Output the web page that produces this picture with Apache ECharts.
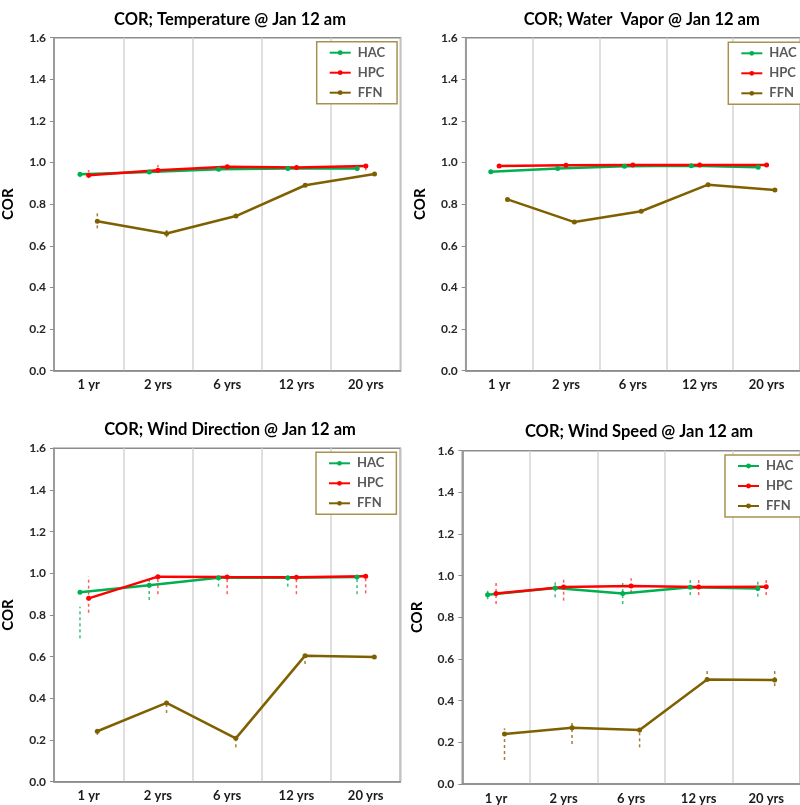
<!DOCTYPE html>
<html>
<head>
<meta charset="utf-8">
<title>COR @ Jan 12 am</title>
<script src="https://cdn.jsdelivr.net/npm/echarts@6/dist/echarts.min.js"></script>
<style>
html, body { margin: 0; padding: 0; background: #fff; }
#main { width: 800px; height: 805px; }
</style>
</head>
<body>
<div id="main"></div>
<script>
// 横轴分类
var categories = ['1 yr', '2 yrs', '6 yrs', '12 yrs', '20 yrs'];
var seriesNames = ['HAC', 'HPC', 'FFN'];
var panelTitles = [
	'COR; Temperature @ Jan 12 am',
	'COR; Water  Vapor @ Jan 12 am',
	'COR; Wind Direction @ Jan 12 am',
	'COR; Wind Speed @ Jan 12 am'
];

// Temperature
var tempHAC = [0.944, 0.955, 0.968, 0.972, 0.972];
var tempHPC = [0.939, 0.963, 0.980, 0.976, 0.984];
var tempFFN = [0.718, 0.659, 0.743, 0.891, 0.945];
var tempHACLow = [0.930, 0.948, 0.962, 0.965, 0.965];
var tempHACHigh = [0.958, 0.962, 0.974, 0.979, 0.979];
var tempHPCLow = [0.925, 0.949, 0.970, 0.968, 0.963];
var tempHPCHigh = [0.964, 0.988, 0.988, 0.984, 0.990];
var tempFFNLow = [0.684, 0.641, 0.735, 0.883, 0.937];
var tempFFNHigh = [0.764, 0.676, 0.752, 0.898, 0.950];

// Water Vapor
var vapHAC = [0.956, 0.972, 0.982, 0.985, 0.977];
var vapHPC = [0.983, 0.987, 0.988, 0.988, 0.988];
var vapFFN = [0.823, 0.714, 0.766, 0.894, 0.868];
var vapHACLow = [0.948, 0.965, 0.975, 0.978, 0.970];
var vapHACHigh = [0.975, 0.982, 0.990, 0.990, 0.985];
var vapHPCLow = [0.978, 0.982, 0.983, 0.983, 0.983];
var vapHPCHigh = [0.988, 0.992, 0.993, 0.993, 0.993];
var vapFFNLow = [0.812, 0.706, 0.760, 0.888, 0.862];
var vapFFNHigh = [0.839, 0.722, 0.772, 0.900, 0.874];

// Wind Direction
var dirHAC = [0.909, 0.943, 0.979, 0.979, 0.982];
var dirHPC = [0.880, 0.984, 0.982, 0.981, 0.986];
var dirFFN = [0.242, 0.378, 0.208, 0.605, 0.598];
var dirHACLow = [0.688, 0.872, 0.936, 0.936, 0.900];
var dirHACHigh = [0.840, 0.975, 0.990, 0.990, 0.990];
var dirHPCLow = [0.811, 0.900, 0.900, 0.900, 0.904];
var dirHPCHigh = [0.985, 0.982, 0.982, 0.984, 0.990];
var dirFFNLow = [0.225, 0.330, 0.165, 0.565, 0.590];
var dirFFNHigh = [0.250, 0.380, 0.210, 0.610, 0.605];

// Wind Speed
var spdHAC = [0.909, 0.941, 0.915, 0.944, 0.939];
var spdHPC = [0.914, 0.946, 0.951, 0.946, 0.947];
var spdFFN = [0.240, 0.270, 0.259, 0.502, 0.499];
var spdHACLow = [0.887, 0.896, 0.864, 0.907, 0.899];
var spdHACHigh = [0.928, 0.979, 0.966, 0.988, 0.975];
var spdHPCLow = [0.864, 0.880, 0.918, 0.907, 0.907];
var spdHPCHigh = [0.979, 0.983, 0.988, 0.988, 0.992];
var spdFFNLow = [0.115, 0.192, 0.176, 0.499, 0.470];
var spdFFNHigh = [0.267, 0.302, 0.259, 0.544, 0.555];

var panels = [
	{ values: [tempHAC, tempHPC, tempFFN], lows: [tempHACLow, tempHPCLow, tempFFNLow], highs: [tempHACHigh, tempHPCHigh, tempFFNHigh] },
	{ values: [vapHAC, vapHPC, vapFFN], lows: [vapHACLow, vapHPCLow, vapFFNLow], highs: [vapHACHigh, vapHPCHigh, vapFFNHigh] },
	{ values: [dirHAC, dirHPC, dirFFN], lows: [dirHACLow, dirHPCLow, dirFFNLow], highs: [dirHACHigh, dirHPCHigh, dirFFNHigh] },
	{ values: [spdHAC, spdHPC, spdFFN], lows: [spdHACLow, spdHPCLow, spdFFNLow], highs: [spdHACHigh, spdHPCHigh, spdFFNHigh] }
];

var FONT = 'Lato';
var lineColors = ['#00B050', '#FF0000', '#7F6000'];
var errColors = ['#3cc07a', '#ff5c5c', '#9c8232'];
// 每组内的横向错位 (单位: 一个分类宽度)
var dodge = [-0.125, 0, 0.125];

var gridPos = [
	{ left: 54, top: 37.7, width: 346.5, height: 333 },
	{ left: 465.7, top: 37.7, width: 346.5, height: 333 },
	{ left: 53.3, top: 448.3, width: 347, height: 333.4 },
	{ left: 462.3, top: 450.7, width: 346.5, height: 333.3 }
];
var titlePos = [[230, 11], [641.7, 11], [230, 421], [639, 423]];
var legendPos = [[316.7, 41.7], [728.3, 42.3], [316, 452.3], [725, 455]];

var option = {
	backgroundColor: '#fff',
	animation: false,
	title: [],
	legend: [],
	grid: [],
	xAxis: [],
	yAxis: [],
	series: []
};

panels.forEach(function(p, i) {
	option.title.push({
		text: panelTitles[i],
		left: titlePos[i][0],
		top: titlePos[i][1],
		textAlign: 'center',
		padding: 0,
		textStyle: { fontFamily: FONT, fontWeight: 'bold', fontSize: 16.5, color: '#000' }
	});
	option.legend.push({
		data: seriesNames,
		orient: 'vertical',
		left: legendPos[i][0],
		top: legendPos[i][1],
		padding: [4, 12, 4, 12],
		itemGap: 6,
		itemWidth: 21,
		itemHeight: 6,
		borderColor: '#a8924f',
		borderWidth: 1.5,
		backgroundColor: '#fff',
		selectedMode: false,
		textStyle: { fontFamily: FONT, fontWeight: 'bold', fontSize: 13, lineHeight: 14, color: '#595959', padding: [0, 0, 0, 2] }
	});
	option.grid.push({
		left: gridPos[i].left,
		top: gridPos[i].top,
		width: gridPos[i].width,
		height: gridPos[i].height,
		show: true,
		borderColor: '#8c8c8c',
		borderWidth: 1.5,
		backgroundColor: 'transparent'
	});
	// 分类轴: 标签和竖向网格线
	option.xAxis.push({
		type: 'category',
		gridIndex: i,
		data: categories,
		boundaryGap: true,
		axisLine: { lineStyle: { color: '#8c8c8c', width: 1.5 } },
		axisTick: { show: false },
		axisLabel: { margin: 8, fontFamily: FONT, fontWeight: 'bold', fontSize: 13, color: '#1a1a1a' },
		splitLine: { show: true, lineStyle: { color: '#d4d4d4', width: 1.5 } }
	});
	// 隐藏的数值轴: 用于错位画点
	option.xAxis.push({
		type: 'value',
		gridIndex: i,
		min: 0,
		max: 5,
		show: false
	});
	option.yAxis.push({
		type: 'value',
		gridIndex: i,
		min: 0,
		max: 1.6,
		interval: 0.2,
		name: 'COR',
		nameLocation: 'middle',
		nameGap: 38,
		nameTextStyle: { fontFamily: FONT, fontWeight: 'bold', fontSize: 15, color: '#000' },
		axisLine: { show: true, lineStyle: { color: '#8c8c8c', width: 1.5 } },
		axisTick: { show: true, length: 4, lineStyle: { color: '#8c8c8c' } },
		axisLabel: {
			margin: 8, fontFamily: FONT, fontWeight: 'bold', fontSize: 12, color: '#262626',
			formatter: function(v) { return v.toFixed(1); }
		},
		splitLine: { show: false }
	});

	seriesNames.forEach(function(name, s) {
		var off = dodge[s];
		// 误差线
		option.series.push({
			type: 'custom',
			name: name + ' err',
			xAxisIndex: 2 * i + 1,
			yAxisIndex: i,
			silent: true,
			z: 1,
			encode: { x: 0, y: [1, 2] },
			data: p.lows[s].map(function(lo, k) { return [k + 0.5 + off, lo, p.highs[s][k]]; }),
			renderItem: function(params, api) {
				var a = api.coord([api.value(0), api.value(1)]);
				var b = api.coord([api.value(0), api.value(2)]);
				return {
					type: 'line',
					shape: { x1: a[0], y1: a[1], x2: b[0], y2: b[1] },
					style: { stroke: errColors[s], lineWidth: 1.5, lineDash: [3, 3] }
				};
			}
		});
		option.series.push({
			type: 'line',
			name: name,
			xAxisIndex: 2 * i + 1,
			yAxisIndex: i,
			z: 3,
			symbol: 'circle',
			symbolSize: 5,
			color: lineColors[s],
			lineStyle: { width: 2.5, color: lineColors[s] },
			itemStyle: { color: lineColors[s] },
			data: p.values[s].map(function(v, k) { return [k + 0.5 + off, v]; })
		});
	});
});

var myChart = echarts.init(document.getElementById('main'), null, { renderer: 'canvas' });
myChart.setOption(option);
</script>
</body>
</html>
